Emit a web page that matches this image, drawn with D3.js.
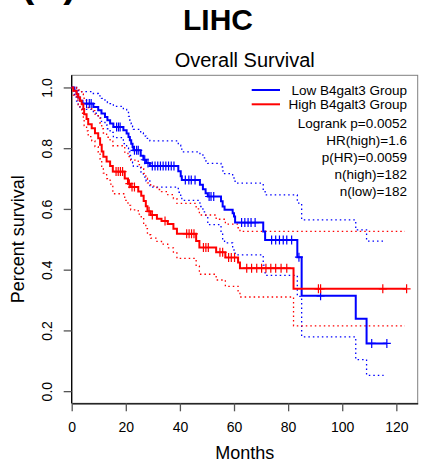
<!DOCTYPE html>
<html>
<head>
<meta charset="utf-8">
<script src="https://cdn.jsdelivr.net/npm/d3@7"></script>
<style>
  body { margin: 0; background: #fff; }
  text { font-family: "Liberation Sans", Arial, sans-serif; fill: #000; }
</style>
</head>
<body>
<svg id="chart" width="426" height="468"></svg>
<script>
// Kaplan–Meier estimates, low-expression group (event times in months)
const lowTime  = [0, 1.0, 1.8, 2.4, 3.0, 4.0, 8.0, 9.8, 11.0, 12.3, 13.2, 14.2, 15.4, 19.1, 20.3, 21.0, 21.5, 22.0, 22.5, 22.8, 25.5, 26.5, 27.5, 28.9, 39.4, 40.3, 40.7, 47.4, 48.5, 49.5, 50.3, 55.2, 55.8, 56.5, 59.5, 60.0, 60.4, 70.8, 71.5, 83.4, 85.0, 105.0, 109.0];
const lowSurv  = [1, .989, .978, .967, .956, .947, .936, .925, .914, .903, .892, .881, .870, .859, .848, .837, .826, .815, .804, .793, .775, .762, .751, .741, .724, .708, .695, .680, .665, .652, .641, .625, .608, .597, .586, .575, .555, .526, .498, .441, .314, .238, .157];
const lowUpper = [1, 1, .995, .990, .986, .986, .980, .972, .964, .955, .950, .947, .938, .928, .918, .905, .892, .880, .870, .862, .850, .840, .832, .824, .810, .797, .788, .778, .768, .758, .750, .738, .725, .716, .706, .696, .685, .662, .646, .619, .564, .531, .494];
const lowLower = [1, .968, .955, .945, .935, .928, .915, .900, .888, .876, .864, .852, .835, .815, .800, .788, .776, .764, .752, .740, .722, .705, .692, .672, .655, .640, .628, .608, .590, .574, .548, .520, .497, .488, .471, .460, .449, .415, .381, .312, .179, .104, .052];
const lowCensor = [5.5, 6.5, 7.2, 16.6, 17.3, 17.9, 23.2, 24.0, 24.6, 27.0, 28.2, 29.8, 30.8, 31.8, 32.8, 33.8, 34.8, 35.8, 36.8, 37.8, 42.0, 43.3, 44.2, 45.6, 50.8, 51.5, 52.5, 62.8, 64.0, 65.2, 66.3, 67.8, 73.9, 75.4, 76.8, 78.2, 79.5, 81.3, 84.0, 92.0, 110.9, 116.5];
const lowEnd = 116.5, lowBandEnd = 115.3;

// Kaplan–Meier estimates, high-expression group
const highTime  = [0, 0.6, 1.8, 2.4, 3.1, 3.7, 4.3, 4.6, 5.5, 6.1, 7.4, 8.6, 9.8, 10.5, 11.1, 11.7, 12.9, 14.2, 15.2, 19.6, 20.8, 21.8, 24.6, 25.7, 26.6, 27.4, 28.0, 29.2, 31.5, 33.2, 35.5, 37.6, 38.9, 46.0, 47.2, 53.4, 56.8, 61.5, 62.2, 82.0];
const highSurv  = [1, .989, .978, .967, .956, .945, .929, .912, .896, .879, .866, .849, .833, .811, .789, .772, .756, .741, .723, .700, .683, .672, .657, .643, .626, .609, .592, .580, .568, .560, .550, .535, .518, .494, .473, .457, .440, .424, .405, .337];
const highUpper = [1, 1, .997, .992, .986, .979, .968, .957, .946, .934, .924, .912, .899, .882, .864, .850, .836, .823, .808, .787, .772, .761, .746, .733, .717, .701, .686, .675, .664, .657, .647, .634, .618, .600, .580, .566, .550, .538, .526, .526];
const highLower = [1, .975, .958, .943, .929, .915, .895, .874, .857, .838, .824, .805, .787, .764, .740, .718, .700, .682, .650, .628, .612, .597, .583, .568, .550, .535, .515, .504, .493, .484, .472, .455, .437, .412, .385, .366, .345, .330, .310, .215];
const highCensor = [16.4, 17.2, 18.0, 18.8, 21.3, 22.3, 23.2, 28.6, 29.8, 34.5, 42.5, 43.4, 44.3, 45.2, 48.7, 49.6, 50.5, 54.8, 55.8, 58.0, 59.0, 60.2, 64.7, 66.5, 68.4, 70.2, 71.8, 73.6, 75.4, 77.4, 79.5, 91.2, 92.0, 115.0, 123.8];
const highEnd = 123.8, highBandEnd = 123.2;

const xTicks = [0, 20, 40, 60, 80, 100, 120];
const yTicks = [0, 0.2, 0.4, 0.6, 0.8, 1.0];
const legendGroups = ["Low B4galt3 Group", "High B4galt3 Group"];
const statLines = ["Logrank p=0.0052", "HR(high)=1.6", "p(HR)=0.0059", "n(high)=182", "n(low)=182"];

const BLUE = "#0000ff", RED = "#ff0000";

const svg = d3.select("#chart");
const plotL = 71.7, plotR = 417.7, plotT = 75.3, plotB = 403.3;

const x = d3.scaleLinear().domain([0, 127.9]).range([plotL, plotR]);
const y = d3.scaleLinear().domain([-0.04, 1.04]).range([plotB, plotT]);

// Headings
svg.append("text").attr("x", 21).attr("y", -3.5)
  .style("font-size", "40px").style("font-weight", "bold").text("(A)");
svg.append("text").attr("x", 218).attr("y", 30).attr("text-anchor", "middle")
  .style("font-size", "30px").style("font-weight", "bold").text("LIHC");
svg.append("text").attr("x", (plotL + plotR) / 2).attr("y", 67).attr("text-anchor", "middle")
  .style("font-size", "20px").text("Overall Survival");

// Plot frame
svg.append("rect").attr("x", plotL).attr("y", plotT)
  .attr("width", plotR - plotL).attr("height", plotB - plotT)
  .attr("fill", "none").attr("stroke", "#808080").attr("stroke-width", 1);

// Axes
const xAxis = svg.append("g").attr("transform", `translate(0,${plotB})`)
  .call(d3.axisBottom(x).tickValues(xTicks).tickSize(8).tickSizeOuter(0).tickPadding(11));
xAxis.select(".domain").attr("stroke", "#000").attr("stroke-width", 1.3);
xAxis.selectAll(".tick line").attr("stroke", "#555").attr("stroke-width", 1.3);
xAxis.selectAll(".tick text").style("font-size", "14px").style("font-family", "Liberation Sans, Arial, sans-serif").attr("fill", "#111");

const yAxis = svg.append("g").attr("transform", `translate(${plotL},0)`)
  .call(d3.axisLeft(y).tickValues(yTicks).tickFormat(d3.format(".1f")).tickSize(8).tickSizeOuter(0));
yAxis.select(".domain").attr("d", `M0,${plotT}V${plotB}`).attr("stroke", "#000").attr("stroke-width", 1.3);
yAxis.selectAll(".tick line").attr("stroke", "#555").attr("stroke-width", 1.3);
yAxis.selectAll(".tick text")
  .attr("x", null).attr("dy", null)
  .attr("transform", "translate(-25,0) rotate(-90)")
  .attr("text-anchor", "middle").attr("dominant-baseline", "central")
  .style("font-size", "14px").style("font-family", "Liberation Sans, Arial, sans-serif").attr("fill", "#111");

svg.append("text").attr("x", (plotL + plotR) / 2).attr("y", 459).attr("text-anchor", "middle")
  .style("font-size", "18px").text("Months");
svg.append("text").attr("transform", `translate(24,${(plotT + plotB) / 2}) rotate(-90)`)
  .attr("text-anchor", "middle").style("font-size", "18px").text("Percent survival");

// Step curves
const stepLine = d3.line().x(d => x(d[0])).y(d => y(d[1])).curve(d3.curveStepAfter);
function steps(times, vals, end) {
  const pts = times.map((t, i) => [t, vals[i]]);
  pts.push([end, vals[vals.length - 1]]);
  return pts;
}
function survAt(times, vals, t) {
  const i = d3.bisectRight(times, t) - 1;
  return vals[Math.max(0, i)];
}

const groups = [
  { color: BLUE, time: lowTime, surv: lowSurv, up: lowUpper, lo: lowLower, cens: lowCensor, end: lowEnd, bandEnd: lowBandEnd },
  { color: RED, time: highTime, surv: highSurv, up: highUpper, lo: highLower, cens: highCensor, end: highEnd, bandEnd: highBandEnd }
];

// Confidence bands (dotted)
groups.forEach(g => {
  [g.up, g.lo].forEach(band => {
    svg.append("path").datum(steps(g.time, band, g.bandEnd))
      .attr("d", stepLine).attr("fill", "none")
      .attr("stroke", g.color).attr("stroke-width", 1.3)
      .attr("stroke-dasharray", "1.5,3");
  });
});

// Survival curves with censor marks
groups.forEach(g => {
  svg.append("path").datum(steps(g.time, g.surv, g.end))
    .attr("d", stepLine).attr("fill", "none")
    .attr("stroke", g.color).attr("stroke-width", 2);
  svg.append("g").selectAll("path").data(g.cens).join("path")
    .attr("d", t => {
      const cx = x(t), cy = y(survAt(g.time, g.surv, t));
      return `M${cx - 4},${cy}H${cx + 4}M${cx},${cy - 4.5}V${cy + 4.5}`;
    })
    .attr("stroke", g.color).attr("stroke-width", 1.2).attr("fill", "none");
});

// Legend
const legend = svg.append("g");
legendGroups.forEach((label, i) => {
  const ly = 90 + i * 14.3;
  legend.append("line").attr("x1", 251.7).attr("x2", 280).attr("y1", ly).attr("y2", ly)
    .attr("stroke", groups[i].color).attr("stroke-width", 2);
  legend.append("text").attr("x", 407).attr("y", ly + 5).attr("text-anchor", "end")
    .style("font-size", "13.5px").text(label);
});
statLines.forEach((s, i) => {
  legend.append("text").attr("x", 407).attr("y", 127.5 + i * 17).attr("text-anchor", "end")
    .style("font-size", "13.5px").text(s);
});
</script>
</body>
</html>
